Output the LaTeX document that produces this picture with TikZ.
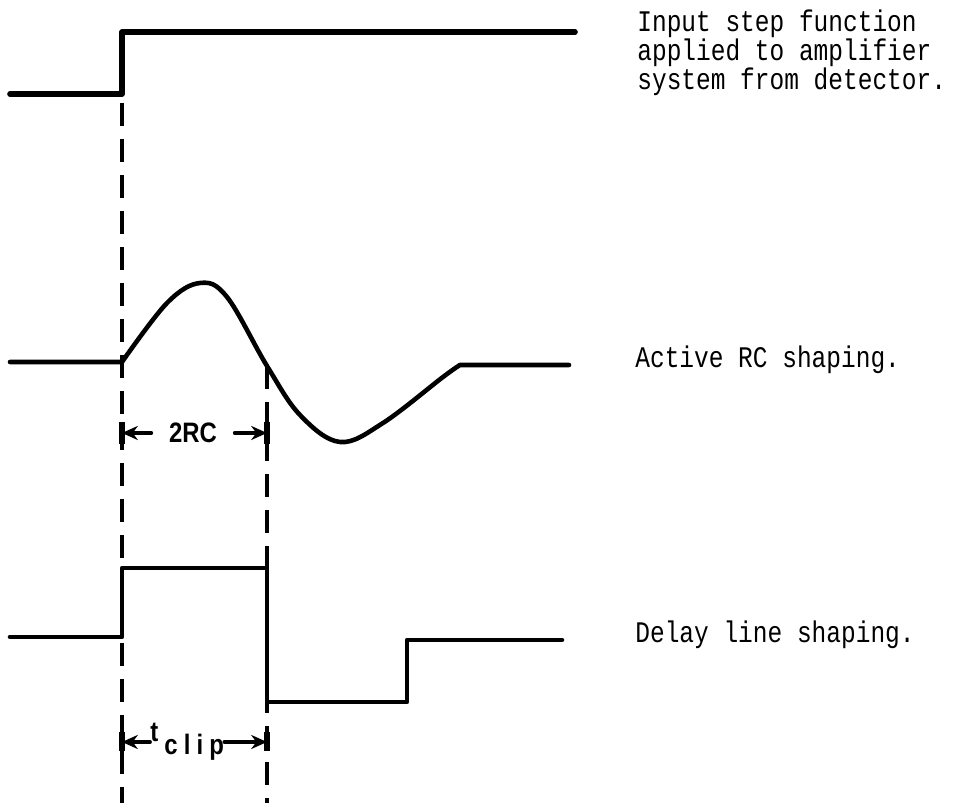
\documentclass[tikz,border=0pt]{standalone}
\usepackage{fontspec}
\usepackage{tikz}
\usetikzlibrary{arrows.meta}
\newfontfamily\notefont[FakeStretch=0.82]{Liberation Mono}
\newfontfamily\dimfont[FakeStretch=0.85]{Liberation Sans}
\newcommand\notesetup{\notefont\fontsize{17}{16.5}\selectfont\lineskiplimit=-20pt\relax}
\tikzset{
  every picture/.style={line join=round, line cap=round, >=Stealth},
  trace/.style={line width=2.6pt},
  marker/.style={line width=2.8pt, line cap=butt, dash pattern=on 0.46cm off 0.26cm},
  dimarrow/.style={line width=2.2pt, -{Stealth[length=9pt,width=8pt]}},
  dimbar/.style={line width=3pt, line cap=butt},
  note/.style={anchor=base west, inner sep=0pt, align=left, font=\notesetup},
  dimlabel/.style={font=\dimfont\bfseries\fontsize{16}{18}\selectfont},
}

\begin{document}
\begin{tikzpicture}
\useasboundingbox (0,0) rectangle (19.40,16.06);
\draw[trace,line width=3.2pt](0.200,14.180)--(2.440,14.180)--(2.440,15.420)--(11.500,15.420);
\draw[trace](0.200,8.820)--plot[smooth,tension=0.6] coordinates{(2.440,8.820) (3.340,10.000) (4.000,10.400) (4.540,10.120) (5.340,8.740) (6.000,7.760) (6.800,7.220) (7.660,7.600) (8.860,8.520) (9.200,8.760)}--(11.380,8.760);
\draw[trace](0.200,3.320)--(2.440,3.320)--(2.440,4.700)--(5.340,4.700)--(5.340,2.020)--(8.140,2.020)--(8.140,3.260)--(11.240,3.260);
\draw[marker](2.440,14.000)--(2.440,0.000);
\draw[marker](5.340,8.740)--(5.340,0.000);
\node[note] (input) at (12.740,14.260) {Input step function\\applied to amplifier\\system from detector.};
\node[note] (active) at (12.700,8.700) {Active RC shaping.};
\node[note] (delay) at (12.700,3.200) {Delay line shaping.};
\node[dimlabel,inner xsep=0.35cm,inner ysep=0pt] (rc) at (3.860,7.400) {2RC};
\coordinate (rcL) at (2.440,7.400);
\coordinate (rcR) at (5.340,7.400);
\draw[dimarrow] (rc.west)--(rcL);
\draw[dimarrow] (rc.east)--(rcR);
\draw[dimbar](2.440,7.180)--(2.440,7.620);
\draw[dimbar](5.340,7.180)--(5.340,7.620);
\node[dimlabel,anchor=base west,inner sep=0pt] (tc) at (3.000,1.220) {t\hspace{0.12cm}\raisebox{-0.26cm}{\addfontfeature{LetterSpace=22}clip}};
\coordinate (clipL) at (2.440,1.220);
\coordinate (clipR) at (5.340,1.220);
\draw[dimarrow] (tc.west|-clipL)--(clipL);
\draw[dimarrow] (tc.east|-clipR)--(clipR);
\draw[dimbar](2.440,1.040)--(2.440,1.420);
\draw[dimbar](5.340,1.040)--(5.340,1.420);
\end{tikzpicture}
\end{document}
